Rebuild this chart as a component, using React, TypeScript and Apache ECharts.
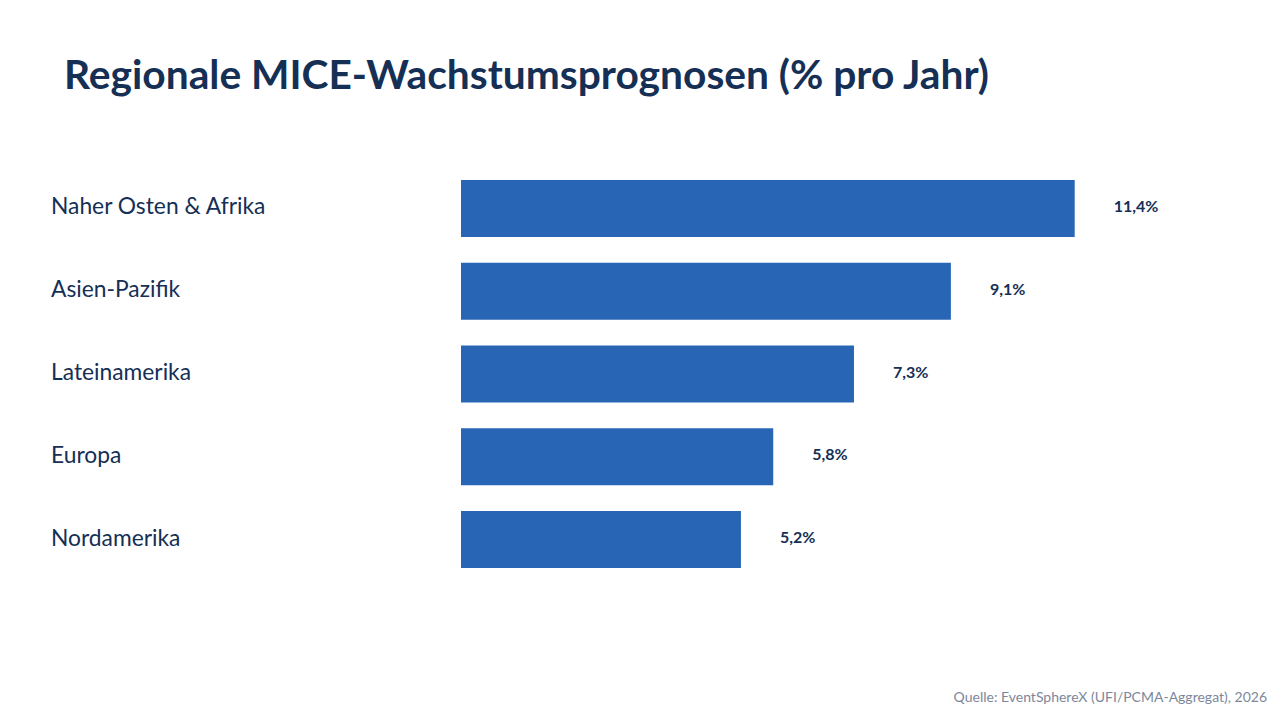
import React, { useEffect, useRef } from "react";
import * as echarts from "echarts";

const categories = ["Naher Osten & Afrika", "Asien-Pazifik", "Lateinamerika", "Europa", "Nordamerika"];
const values = [11.4, 9.1, 7.3, 5.8, 5.2];
const titleText = "Regionale MICE-Wachstumsprognosen (% pro Jahr)";
const sourceText = "Quelle: EventSphereX (UFI/PCMA-Aggregat), 2026";

const NAVY = "#152f55";
const FONT = "Lato, 'Noto Sans', sans-serif";

export default function App() {
  const ref = useRef<HTMLDivElement>(null);
  useEffect(() => {
    if (!ref.current) return;
    const chart = echarts.init(ref.current, null, { renderer: "svg" });
    chart.setOption({
      animation: false,
      backgroundColor: "#ffffff",
      textStyle: { fontFamily: FONT },
      title: {
        text: titleText,
        left: 59,
        top: 48,
        textStyle: { fontFamily: FONT, fontSize: 40.7, fontWeight: "bold", color: NAVY },
      },
      graphic: [
        {
          type: "text",
          right: 13,
          top: 689,
          style: { text: sourceText, fontFamily: FONT, fontSize: 14, fill: "#7d879b" },
        },
      ],
      grid: { left: 461, right: 173, top: 167, bottom: 139, containLabel: false },
      xAxis: {
        type: "value",
        min: 0,
        max: 12,
        show: false,
      },
      yAxis: {
        type: "category",
        data: categories,
        inverse: true,
        axisLine: { show: false },
        axisTick: { show: false },
        splitLine: { show: false },
        axisLabel: {
          align: "left",
          margin: 410,
          formatter: (v: string) => "{a|" + v + "}",
          rich: {
            a: {
              fontFamily: FONT,
              fontSize: 22.8,
              color: NAVY,
              padding: [0, 0, 6, 0],
            },
          },
        },
      },
      series: [
        {
          type: "bar",
          data: values,
          barWidth: 57,
          itemStyle: { color: "#2866b5" },
          label: {
            show: true,
            position: "right",
            distance: 39,
            offset: [0, -3],
            formatter: (p: any) => String(p.value).replace(".", ",") + "%",
            fontFamily: FONT,
            fontSize: 16,
            fontWeight: "bold",
            color: NAVY,
          },
        },
      ],
    });
    return () => chart.dispose();
  }, []);
  return <div ref={ref} style={{ width: 1280, height: 720, position: "absolute", left: 0, top: 0 }} />;
}
